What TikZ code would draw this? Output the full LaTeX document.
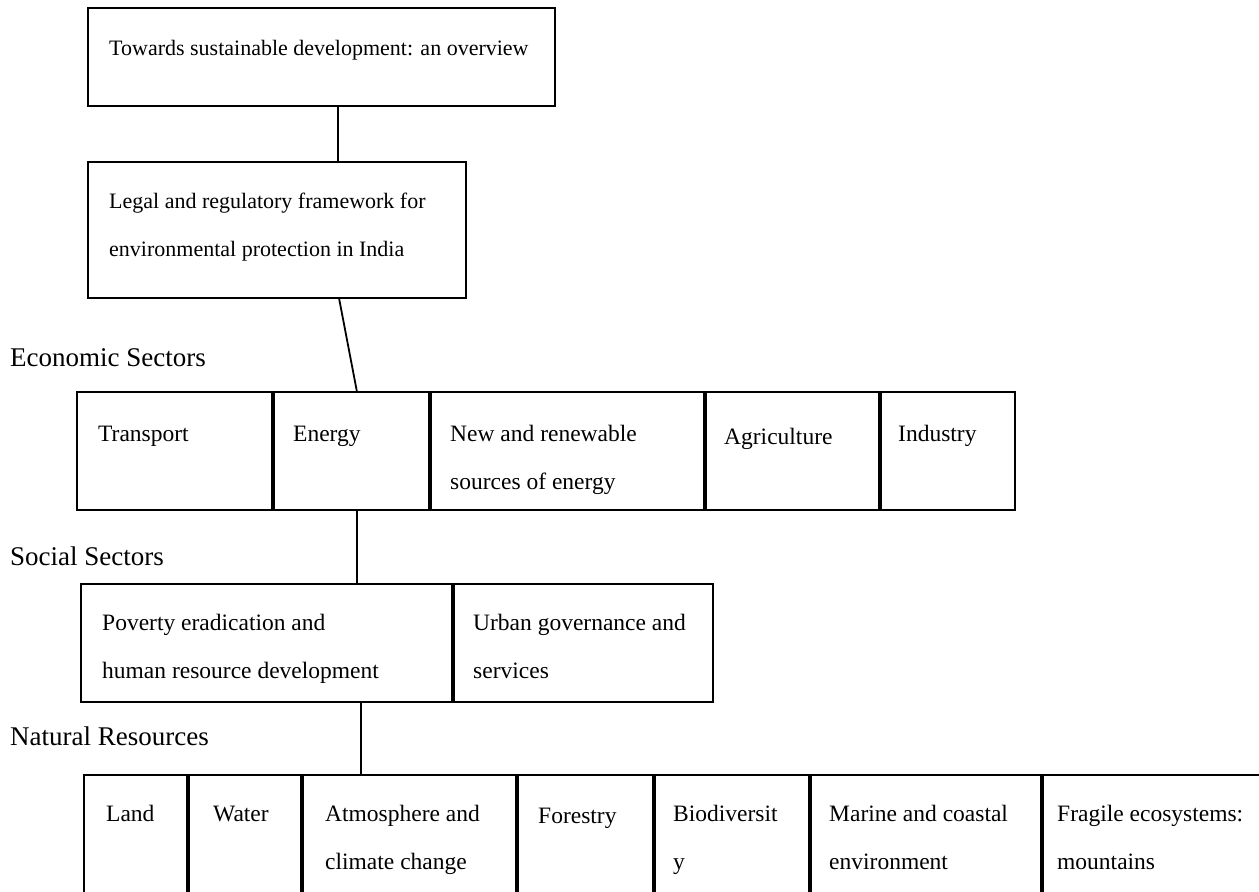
\documentclass[tikz,border=0pt]{standalone}
\usepackage{fontspec}
\setmainfont{Liberation Serif}
\tikzset{
  cellbox/.style={draw, line width=2pt, inner sep=0pt, outer sep=0pt, anchor=north west},
  divider/.style={line width=4pt},
  conn/.style={line width=1.8pt},
  toptxt/.style={font=\fontsize{22pt}{26pt}\selectfont, inner sep=0pt, anchor=base west},
  rowtxt/.style={font=\fontsize{23.5pt}{28pt}\selectfont, inner sep=0pt, anchor=base west},
  headtxt/.style={font=\fontsize{27pt}{32pt}\selectfont, inner sep=0pt, anchor=base west}
}
\begin{document}
\begin{tikzpicture}[x=1pt,y=-1pt]
\useasboundingbox (0,0) rectangle (1259,892);
\clip (0,0) rectangle (1259,892);
\fill[white] (0,0) rectangle (1259,892);

% top boxes
\node[cellbox, minimum width=467pt, minimum height=98pt] (b1) at (88,8) {};
\node[cellbox, minimum width=378pt, minimum height=136pt] (b2) at (88,162) {};
\node[toptxt] (b1t) at (109,55) {Towards sustainable development: an overview};
\node[toptxt] (b2t1) at (109,208) {Legal and regulatory framework for};
\node[toptxt] (b2t2) at (109,256) {environmental protection in India};

% section labels
\node[headtxt] (econ) at (10,366) {Economic Sectors};
\node[headtxt] (soc) at (10,565) {Social Sectors};
\node[headtxt] (nat) at (10,745) {Natural Resources};

% economic sectors row
\node[cellbox, minimum width=196pt, minimum height=118pt] (e1) at (77,392) {};
\node[cellbox, minimum width=157pt, minimum height=118pt] (e2) at (273,392) {};
\node[cellbox, minimum width=275pt, minimum height=118pt] (e3) at (430,392) {};
\node[cellbox, minimum width=175pt, minimum height=118pt] (e4) at (705,392) {};
\node[cellbox, minimum width=135pt, minimum height=118pt] (e5) at (880,392) {};
\foreach \c in {e1,e2,e3,e4} \draw[divider] (\c.north east) -- (\c.south east);
\node[rowtxt] (e1t) at (98,441) {Transport};
\node[rowtxt] (e2t) at (293,441) {Energy};
\node[rowtxt] (e3t1) at (450,441) {New and renewable};
\node[rowtxt] (e3t2) at (450,489) {sources of energy};
\node[rowtxt] (e4t) at (724,444) {Agriculture};
\node[rowtxt] (e5t) at (898,441) {Industry};

% social sectors row
\node[cellbox, minimum width=372pt, minimum height=118pt] (s1) at (81,584) {};
\node[cellbox, minimum width=260pt, minimum height=118pt] (s2) at (453,584) {};
\draw[divider] (s1.north east) -- (s1.south east);
\node[rowtxt] (s1t1) at (102,630) {Poverty eradication and};
\node[rowtxt] (s1t2) at (102,678) {human resource development};
\node[rowtxt] (s2t1) at (473,630) {Urban governance and};
\node[rowtxt] (s2t2) at (473,678) {services};

% natural resources row
\node[cellbox, minimum width=104pt, minimum height=180pt] (n1) at (84,775) {};
\node[cellbox, minimum width=114pt, minimum height=180pt] (n2) at (188,775) {};
\node[cellbox, minimum width=215pt, minimum height=180pt] (n3) at (302,775) {};
\node[cellbox, minimum width=137pt, minimum height=180pt] (n4) at (517,775) {};
\node[cellbox, minimum width=156pt, minimum height=180pt] (n5) at (654,775) {};
\node[cellbox, minimum width=232pt, minimum height=180pt] (n6) at (810,775) {};
\node[cellbox, minimum width=258pt, minimum height=180pt] (n7) at (1042,775) {};
\foreach \c in {n1,n2,n3,n4,n5,n6} \draw[divider] (\c.north east) -- (\c.south east);
\node[rowtxt] (n1t) at (106,821) {Land};
\node[rowtxt] (n2t) at (213,821) {Water};
\node[rowtxt] (n3t1) at (325,821) {Atmosphere and};
\node[rowtxt] (n3t2) at (325,869) {climate change};
\node[rowtxt] (n4t) at (538,823) {Forestry};
\node[rowtxt] (n5t1) at (673,821) {Biodiversit};
\node[rowtxt] (n5t2) at (673,869) {y};
\node[rowtxt] (n6t1) at (829,821) {Marine and coastal};
\node[rowtxt] (n6t2) at (829,869) {environment};
\node[rowtxt] (n7t1) at (1057,821) {Fragile ecosystems:};
\node[rowtxt] (n7t2) at (1057,869) {mountains};

% connectors
\draw[conn] ([xshift=250pt]b1.south west) -- ([xshift=250pt]b2.north west);
\draw[conn] ([xshift=251pt]b2.south west) -- ([xshift=84pt]e2.north west);
\draw[conn] ([xshift=84pt]e2.south west) -- ([xshift=276pt]s1.north west);
\draw[conn] ([xshift=280pt]s1.south west) -- ([xshift=59pt]n3.north west);
\end{tikzpicture}
\end{document}
